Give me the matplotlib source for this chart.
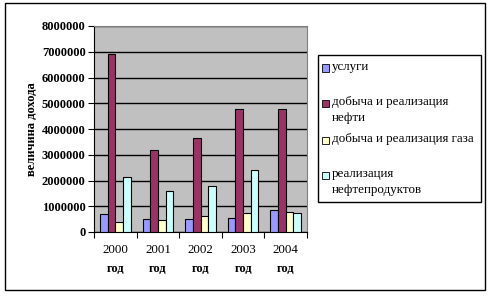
import numpy as np
import matplotlib.pyplot as plt
from matplotlib.patches import Rectangle

years = ['2000', '2001', '2002', '2003', '2004']
series = ['услуги', 'добыча и реализация\nнефти', 'добыча и реализация газа',
          'реализация\nнефтепродуктов']
uslugi = [700000, 500000, 500000, 530000, 870000]
neft = [6920000, 3170000, 3650000, 4760000, 4760000]
gaz = [380000, 450000, 630000, 720000, 790000]
nefteprod = [2150000, 1600000, 1800000, 2400000, 720000]
colors = ['#9999FF', '#993366', '#FFFFCC', '#CCFFFF']

plt.rcParams['font.family'] = ['Liberation Serif', 'DejaVu Serif']

fig = plt.figure(figsize=(4.91, 2.96), dpi=100)
W, H = 491.0, 296.0
# outer chart border
fig.patches.append(Rectangle((5 / W, 1 - 290 / H), 480 / W, 287 / H, transform=fig.transFigure,
                             fill=False, edgecolor='black', linewidth=1))

ax = fig.add_axes([94 / W, 1 - 232 / H, 213 / W, 206 / H])
ax.set_facecolor('#C0C0C0')

x = np.arange(len(years))
bw = 0.18
data = [uslugi, neft, gaz, nefteprod]
for i, vals in enumerate(data):
    ax.bar(x + (i - 1.5) * bw, vals, bw, color=colors[i], edgecolor='black', linewidth=0.8, zorder=3)

ax.set_xlim(-0.5, 4.5)
ax.set_ylim(0, 8000000)
ax.set_yticks(np.arange(0, 8000001, 1000000))
ax.set_yticklabels([str(v) for v in range(0, 8000001, 1000000)], fontsize=9, fontweight='bold')
ax.yaxis.grid(True, color='black', linewidth=1, zorder=1)
ax.set_axisbelow(True)
ax.set_xticks(np.arange(-0.5, 4.6, 1))
ax.set_xticklabels([])
ax.tick_params(axis='x', length=4, direction='out', width=0.8)
ax.tick_params(axis='y', length=4, direction='out', width=0.8, pad=2)
for i, y in enumerate(years):
    ax.text(i, -0.085, y, transform=ax.get_xaxis_transform(), ha='center', va='center', fontsize=9.3)
    ax.text(i, -0.18, 'год', transform=ax.get_xaxis_transform(), ha='center', va='center',
            fontsize=9, fontweight='bold')
for s in ['top', 'right']:
    ax.spines[s].set_color('#808080')
ax.spines['left'].set_color('black')
ax.spines['bottom'].set_color('black')
ax.set_ylabel('величина дохода', fontsize=9, fontweight='bold', labelpad=3)

# legend
fig.patches.append(Rectangle((318 / W, 1 - 202 / H), 163 / W, 147 / H, transform=fig.transFigure,
                             facecolor='white', edgecolor='black', linewidth=1))
rows = [68, 103, 140, 175]
for c, lab, yy in zip(colors, series, rows):
    fig.patches.append(Rectangle((322 / W, 1 - (yy + 3.5) / H), 7 / W, 7 / H, transform=fig.transFigure,
                                 facecolor=c, edgecolor='black', linewidth=0.6))
    fig.text(332 / W, 1 - (yy - 7) / H, lab, fontsize=9.4, va='top', ha='left', linespacing=1.5)

fig.savefig('out.png', dpi=100)
